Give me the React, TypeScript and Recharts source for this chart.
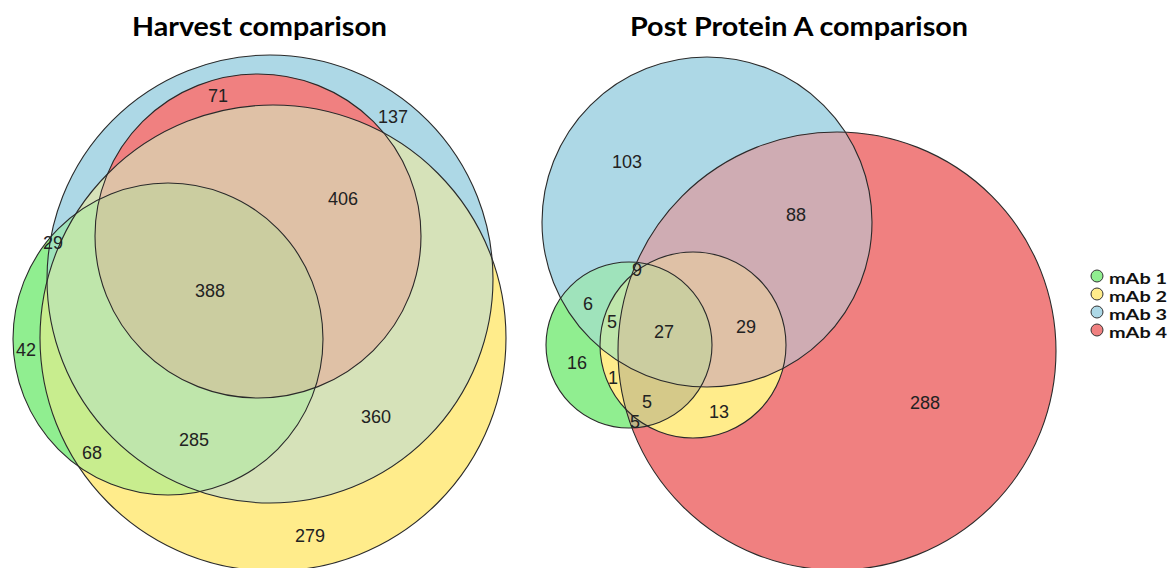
import React from "react";
import { ScatterChart, Scatter, XAxis, YAxis, ReferenceArea } from "recharts";

// Sets and their colours (legend order)
const setNames = ["mAb 1", "mAb 2", "mAb 3", "mAb 4"];
const setColors = ["#90EE90", "#FFEC8B", "#ADD8E6", "#F08080"];

// Harvest comparison: ellipse centre / radii for each set, in chart units
const harvestCx = [168, 273, 270, 258];
const harvestCy = [339, 338, 279, 236];
const harvestRx = [155, 233, 223, 163];
const harvestRy = [156, 233, 224, 162];

// Harvest comparison: region counts and where they sit
const harvestCounts = [71, 137, 406, 29, 388, 42, 360, 285, 68, 279];
const harvestLabelX = [218, 393, 343, 53, 210, 26, 376, 194, 92, 310];
const harvestLabelY = [96, 117, 199, 243, 291, 350, 417, 440, 453, 536];

// regions whose shade is not a plain blend (bitmask: 1 mAb1, 2 mAb2, 4 mAb3, 8 mAb4)
const harvestOverrideMasks = [12];
const harvestOverrideFills = ["#F08080"];

// Post Protein A comparison
const proteinCx = [629, 693, 707, 837];
const proteinCy = [345, 345, 222, 351];
const proteinRx = [83, 93, 165, 219];
const proteinRy = [83, 93, 165, 219];

const proteinCounts = [103, 88, 9, 6, 5, 27, 29, 16, 1, 5, 13, 5, 288];
const proteinLabelX = [627, 796, 637, 588, 612, 664, 746, 577, 613, 647, 719, 635, 925];
const proteinLabelY = [162, 215, 270, 304, 322, 332, 327, 363, 378, 402, 412, 422, 403];

const proteinOverrideMasks = [3, 10];
const proteinOverrideFills = ["#FFEC8B", "#FFEC8B"];

const titles = ["Harvest comparison", "Post Protein A comparison"];

const W = 1170;
const H = 568;

// average the member colours of a region (overlaps look like a blend)
function mixColors(colors: string[]) {
  const sum = [0, 0, 0];
  colors.forEach((c) => {
    for (let k = 0; k < 3; k++) sum[k] += parseInt(c.slice(1 + k * 2, 3 + k * 2), 16);
  });
  return `rgb(${sum.map((s) => Math.round(s / colors.length)).join(",")})`;
}

const bitCount = (m: number) => [0, 1, 2, 3].filter((i) => m & (1 << i)).length;

function ellipseOf(p: any) {
  return {
    cx: p.x + p.width / 2,
    cy: p.y + p.height / 2,
    rx: p.width / 2,
    ry: p.height / 2,
  };
}

function vennAreas(
  panel: string,
  cx: number[],
  cy: number[],
  rx: number[],
  ry: number[],
  overrideMasks: number[],
  overrideFills: string[]
) {
  const areas: React.ReactNode[] = [];
  const box = (i: number) => ({
    x1: cx[i] - rx[i],
    x2: cx[i] + rx[i],
    y1: cy[i] - ry[i],
    y2: cy[i] + ry[i],
  });

  // clip paths, one per set
  cx.forEach((_, i) => {
    areas.push(
      <ReferenceArea
        key={`${panel}-clip-${i}`}
        {...box(i)}
        ifOverflow="visible"
        shape={(p: any) => (
          <defs>
            <clipPath id={`${panel}-clip-${i}`}>
              <ellipse {...ellipseOf(p)} />
            </clipPath>
          </defs>
        )}
      />
    );
  });

  // every intersection, smallest first so the bigger overlaps end on top
  const masks = Array.from({ length: 15 }, (_, k) => k + 1).sort(
    (a, b) => bitCount(a) - bitCount(b)
  );
  masks.forEach((m) => {
    const members = [0, 1, 2, 3].filter((i) => m & (1 << i));
    const first = members[0];
    const others = members.slice(1);
    const o = overrideMasks.indexOf(m);
    const fill = o >= 0 ? overrideFills[o] : mixColors(members.map((i) => setColors[i]));
    areas.push(
      <ReferenceArea
        key={`${panel}-region-${m}`}
        {...box(first)}
        ifOverflow="visible"
        shape={(p: any) =>
          others.reduce(
            (inner: React.ReactElement, i) => (
              <g clipPath={`url(#${panel}-clip-${i})`}>{inner}</g>
            ),
            <ellipse {...ellipseOf(p)} fill={fill} stroke="none" />
          )
        }
      />
    );
  });

  // outlines
  cx.forEach((_, i) => {
    areas.push(
      <ReferenceArea
        key={`${panel}-edge-${i}`}
        {...box(i)}
        ifOverflow="visible"
        shape={(p: any) => (
          <ellipse {...ellipseOf(p)} fill="none" stroke="#2a2a2a" strokeWidth={1.1} />
        )}
      />
    );
  });
  return areas;
}

const harvestLabels = harvestCounts.map((c, i) => ({
  x: harvestLabelX[i],
  y: harvestLabelY[i],
  count: c,
}));
const proteinLabels = proteinCounts.map((c, i) => ({
  x: proteinLabelX[i],
  y: proteinLabelY[i],
  count: c,
}));

const CountLabel = (props: any) => (
  <text
    x={props.cx}
    y={props.cy}
    textAnchor="middle"
    dominantBaseline="central"
    fontFamily="'Liberation Sans', Arial, sans-serif"
    fontSize={18}
    fill="#222"
  >
    {props.payload.count}
  </text>
);

export default function App() {
  return (
    <div
      style={{
        position: "absolute",
        left: 0,
        top: 0,
        width: W,
        height: H,
        background: "#fff",
        overflow: "hidden",
      }}
    >
      <ScatterChart width={W} height={H} margin={{ top: 0, right: 0, bottom: 0, left: 0 }}>
        <XAxis type="number" dataKey="x" domain={[0, W]} hide />
        <YAxis type="number" dataKey="y" domain={[0, H]} reversed hide />
        {vennAreas(
          "harvest",
          harvestCx,
          harvestCy,
          harvestRx,
          harvestRy,
          harvestOverrideMasks,
          harvestOverrideFills
        )}
        {vennAreas(
          "protein",
          proteinCx,
          proteinCy,
          proteinRx,
          proteinRy,
          proteinOverrideMasks,
          proteinOverrideFills
        )}
        <Scatter data={harvestLabels} shape={CountLabel} isAnimationActive={false} />
        <Scatter data={proteinLabels} shape={CountLabel} isAnimationActive={false} />
      </ScatterChart>

      {/* titles and legend */}
      <svg
        width={W}
        height={H}
        style={{ position: "absolute", left: 0, top: 0, pointerEvents: "none" }}
      >
        <text
          x={132}
          y={36}
          textLength={255}
          lengthAdjust="spacingAndGlyphs"
          fontFamily="Lato, 'Open Sans', sans-serif"
          fontWeight={700}
          fontSize={26}
          fill="#000"
        >
          {titles[0]}
        </text>
        <text
          x={630}
          y={36}
          textLength={338}
          lengthAdjust="spacingAndGlyphs"
          fontFamily="Lato, 'Open Sans', sans-serif"
          fontWeight={700}
          fontSize={26}
          fill="#000"
        >
          {titles[1]}
        </text>
        {setNames.map((name, i) => (
          <g key={name}>
            <circle
              cx={1097}
              cy={276 + i * 18}
              r={6}
              fill={setColors[i]}
              stroke="#333"
              strokeWidth={1}
            />
            <text
              x={1109}
              y={277 + i * 18}
              dominantBaseline="central"
              textLength={58}
              lengthAdjust="spacingAndGlyphs"
              fontFamily="Lato, 'Open Sans', sans-serif"
              fontWeight={700}
              fontSize={16}
              fill="#111"
            >
              {name}
            </text>
          </g>
        ))}
      </svg>
    </div>
  );
}
